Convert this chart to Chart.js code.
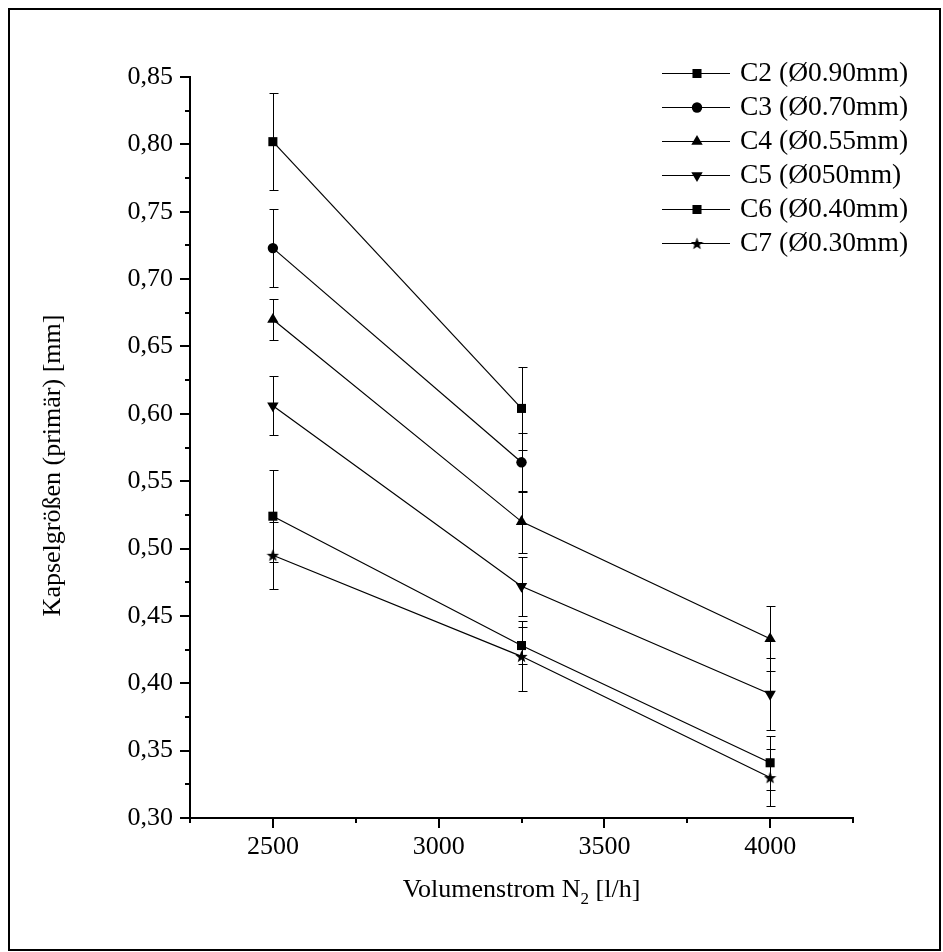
<!DOCTYPE html>
<html>
<head>
<meta charset="utf-8">
<script src="https://cdn.jsdelivr.net/npm/chart.js@4.4.1/dist/chart.umd.min.js"></script>
<style>
  html, body { margin: 0; padding: 0; background: #fff; }
  #wrap { width: 943px; height: 952px; }
</style>
</head>
<body>
<div id="wrap"><canvas id="chart" width="943" height="952"></canvas></div>
<script>
// Volumenstrom N2 [l/h]
var flows = [2500, 3250, 4000];

// mean capsule sizes [mm] and +/- error, null = not measured
var c2 = [0.802, 0.604, null];
var c2Err = [0.036, 0.031, null];
var c3 = [0.723, 0.564, null];
var c3Err = [0.029, 0.022, null];
var c4 = [0.670, 0.520, 0.433];
var c4Err = [0.015, 0.023, 0.024];
var c5 = [0.606, 0.472, 0.392];
var c5Err = [0.022, 0.022, 0.027];
var c6 = [0.524, 0.428, 0.341];
var c6Err = [0.034, 0.014, 0.020];
var c7 = [0.495, 0.420, 0.330];
var c7Err = [0.025, 0.026, 0.021];

var seriesNames = ['C2 (\u00D80.90mm)', 'C3 (\u00D80.70mm)', 'C4 (\u00D80.55mm)',
                   'C5 (\u00D8050mm)', 'C6 (\u00D80.40mm)', 'C7 (\u00D80.30mm)'];

var yTickValues = [0.30, 0.35, 0.40, 0.45, 0.50, 0.55, 0.60, 0.65, 0.70, 0.75, 0.80, 0.85];
var yTickLabels = ['0,30', '0,35', '0,40', '0,45', '0,50', '0,55', '0,60', '0,65', '0,70', '0,75', '0,80', '0,85'];
var xTickValues = [2500, 3000, 3500, 4000];
var xTickLabels = ['2500', '3000', '3500', '4000'];

var yTitle = 'Kapselgr\u00F6\u00DFen (prim\u00E4r) [mm]';

var FONT = '"Liberation Serif", "Times New Roman", Times, serif';

function makeStar(size) {
  var c = document.createElement('canvas');
  c.width = size; c.height = size;
  var g = c.getContext('2d');
  var R = size / 2, r = R * 0.42, cx = size / 2, cy = size / 2 + 0.6;
  g.fillStyle = '#000';
  g.beginPath();
  for (var i = 0; i < 10; i++) {
    var a = -Math.PI / 2 + i * Math.PI / 5;
    var rad = i % 2 ? r : R;
    g.lineTo(cx + rad * Math.cos(a), cy + rad * Math.sin(a));
  }
  g.closePath();
  g.fill();
  return c;
}
var starImg = makeStar(13);

// marker per series: style, radius, rotation
var markers = [
  { style: 'rect', radius: 6.4, rotation: 0 },
  { style: 'circle', radius: 5.2, rotation: 0 },
  { style: 'triangle', radius: 6.6, rotation: 0 },
  { style: 'triangle', radius: 6.6, rotation: 180 },
  { style: 'rect', radius: 6.4, rotation: 0 },
  { style: starImg, radius: 6, rotation: 0 }
];

var seriesValues = [c2, c3, c4, c5, c6, c7];
var seriesErrors = [c2Err, c3Err, c4Err, c5Err, c6Err, c7Err];

function toPoints(vals) {
  var pts = [];
  flows.forEach(function (f, i) {
    if (vals[i] !== null) pts.push({ x: f, y: vals[i] });
  });
  return pts;
}

var datasets = seriesValues.map(function (vals, k) {
  return {
    label: seriesNames[k],
    data: toPoints(vals),
    borderColor: '#000',
    borderWidth: 1.2,
    backgroundColor: '#000',
    pointStyle: markers[k].style,
    pointRadius: markers[k].radius,
    pointRotation: markers[k].rotation,
    pointBackgroundColor: '#000',
    pointBorderColor: '#000',
    pointBorderWidth: 0,
    tension: 0,
    fill: false
  };
});

function isMajor(list, v) {
  for (var i = 0; i < list.length; i++) {
    if (Math.abs(list[i] - v) < 1e-6) return i;
  }
  return -1;
}

var framePlugin = {
  id: 'frame',
  beforeDraw: function (chart) {
    var ctx = chart.ctx;
    ctx.save();
    ctx.fillStyle = '#fff';
    ctx.fillRect(0, 0, chart.width, chart.height);
    ctx.strokeStyle = '#000';
    ctx.lineWidth = 2;
    ctx.strokeRect(9, 9, chart.width - 12, chart.height - 11);
    ctx.restore();
  }
};

var errorBarPlugin = {
  id: 'errorBars',
  beforeDatasetsDraw: function (chart) {
    var ctx = chart.ctx, xs = chart.scales.x, ys = chart.scales.y;
    ctx.save();
    ctx.strokeStyle = '#000';
    ctx.lineWidth = 1;
    seriesValues.forEach(function (vals, k) {
      var errs = seriesErrors[k];
      flows.forEach(function (f, i) {
        if (vals[i] === null || errs[i] === null) return;
        var px = Math.round(xs.getPixelForValue(f)) + 0.5;
        var top = Math.round(ys.getPixelForValue(vals[i] + errs[i])) + 0.5;
        var bot = Math.round(ys.getPixelForValue(vals[i] - errs[i])) + 0.5;
        ctx.beginPath();
        ctx.moveTo(px, top); ctx.lineTo(px, bot);
        ctx.moveTo(px - 4, top); ctx.lineTo(px + 5, top);
        ctx.moveTo(px - 4, bot); ctx.lineTo(px + 5, bot);
        ctx.stroke();
      });
    });
    ctx.restore();
  }
};

var tickMarkPlugin = {
  id: 'tickMarks',
  afterDraw: function (chart) {
    var ctx = chart.ctx, xs = chart.scales.x, ys = chart.scales.y, a = chart.chartArea;
    ctx.save();
    ctx.strokeStyle = '#000';
    ctx.lineWidth = 2;
    ctx.beginPath();
    ys.ticks.forEach(function (t) {
      var py = Math.round(ys.getPixelForValue(t.value));
      var len = isMajor(yTickValues, t.value) >= 0 ? 10 : 5;
      ctx.moveTo(a.left, py); ctx.lineTo(a.left - len, py);
    });
    xs.ticks.forEach(function (t) {
      var px = Math.round(xs.getPixelForValue(t.value));
      var len = isMajor(xTickValues, t.value) >= 0 ? 10 : 5;
      ctx.moveTo(px, a.bottom); ctx.lineTo(px, a.bottom + len);
    });
    ctx.stroke();
    ctx.restore();
  }
};

var axisTitlePlugin = {
  id: 'axisTitles',
  afterDraw: function (chart) {
    var ctx = chart.ctx, a = chart.chartArea;
    var main = '26px ' + FONT, sub = '17px ' + FONT;
    var p1 = 'Volumenstrom N', p2 = '2', p3 = ' [l/h]';
    ctx.save();
    ctx.fillStyle = '#000';
    ctx.textBaseline = 'alphabetic';
    ctx.textAlign = 'left';
    ctx.font = main;
    var w1 = ctx.measureText(p1).width, w3 = ctx.measureText(p3).width;
    ctx.font = sub;
    var w2 = ctx.measureText(p2).width;
    var x = (a.left + a.right) / 2 - (w1 + w2 + w3) / 2;
    var y = a.bottom + 79;
    ctx.font = main;
    ctx.fillText(p1, x, y);
    ctx.font = sub;
    ctx.fillText(p2, x + w1, y + 7);
    ctx.font = main;
    ctx.fillText(p3, x + w1 + w2, y);

    // y title, rotated, sits a little below the axis centre
    ctx.translate(53, (a.top + a.bottom) / 2 + 18);
    ctx.rotate(-Math.PI / 2);
    ctx.font = main;
    ctx.textAlign = 'center';
    ctx.textBaseline = 'middle';
    ctx.fillText(yTitle, 0, 0);
    ctx.restore();
  }
};

var legendPlugin = {
  id: 'seriesLegend',
  afterDraw: function (chart) {
    var ctx = chart.ctx;
    var x0 = 662, x1 = 730, xm = 697, xt = 740, y0 = 73, step = 34;
    ctx.save();
    ctx.font = '27.5px ' + FONT;
    ctx.textBaseline = 'middle';
    ctx.textAlign = 'left';
    seriesNames.forEach(function (name, k) {
      var y = y0 + k * step;
      ctx.strokeStyle = '#000';
      ctx.lineWidth = 1.2;
      ctx.beginPath();
      ctx.moveTo(x0, y + 0.5); ctx.lineTo(x1, y + 0.5);
      ctx.stroke();
      ctx.fillStyle = '#000';
      Chart.helpers.drawPoint(ctx, {
        pointStyle: markers[k].style,
        rotation: markers[k].rotation,
        radius: markers[k].radius,
        borderWidth: 0
      }, xm, y + 0.5);
      ctx.fillStyle = '#000';
      ctx.fillText(name, xt, y + 1);
    });
    ctx.restore();
  }
};

var ctx = document.getElementById('chart').getContext('2d');
var chart = new Chart(ctx, {
  type: 'line',
  data: { datasets: datasets },
  options: {
    responsive: false,
    animation: false,
    devicePixelRatio: 1,
    layout: { padding: { left: 0, top: 77, right: 90, bottom: 0 } },
    plugins: {
      legend: { display: false },
      tooltip: { enabled: false }
    },
    scales: {
      x: {
        type: 'linear',
        min: 2250,
        max: 4250,
        grid: { display: false, drawTicks: false },
        border: { display: true, color: '#000', width: 2 },
        afterBuildTicks: function (scale) {
          var t = [];
          for (var v = 2250; v <= 4250; v += 250) t.push({ value: v });
          scale.ticks = t;
        },
        ticks: {
          autoSkip: false,
          maxRotation: 0,
          padding: 14,
          color: '#000',
          font: { family: FONT, size: 26 },
          callback: function (value) {
            var i = isMajor(xTickValues, value);
            return i >= 0 ? xTickLabels[i] : '';
          }
        },
        afterFit: function (scale) { scale.height = 134; }
      },
      y: {
        type: 'linear',
        min: 0.30,
        max: 0.85,
        grid: { display: false, drawTicks: false },
        border: { display: true, color: '#000', width: 2 },
        afterBuildTicks: function (scale) {
          var t = [];
          yTickValues.forEach(function (v, i) {
            t.push({ value: v });
            if (i < yTickValues.length - 1) t.push({ value: (v + yTickValues[i + 1]) / 2 });
          });
          scale.ticks = t;
        },
        ticks: {
          autoSkip: false,
          padding: 17,
          color: '#000',
          font: { family: FONT, size: 26 },
          callback: function (value) {
            var i = isMajor(yTickValues, value);
            return i >= 0 ? yTickLabels[i] : '';
          }
        },
        afterFit: function (scale) { scale.width = 190; }
      }
    }
  },
  plugins: [framePlugin, errorBarPlugin, tickMarkPlugin, axisTitlePlugin, legendPlugin]
});
</script>
</body>
</html>
